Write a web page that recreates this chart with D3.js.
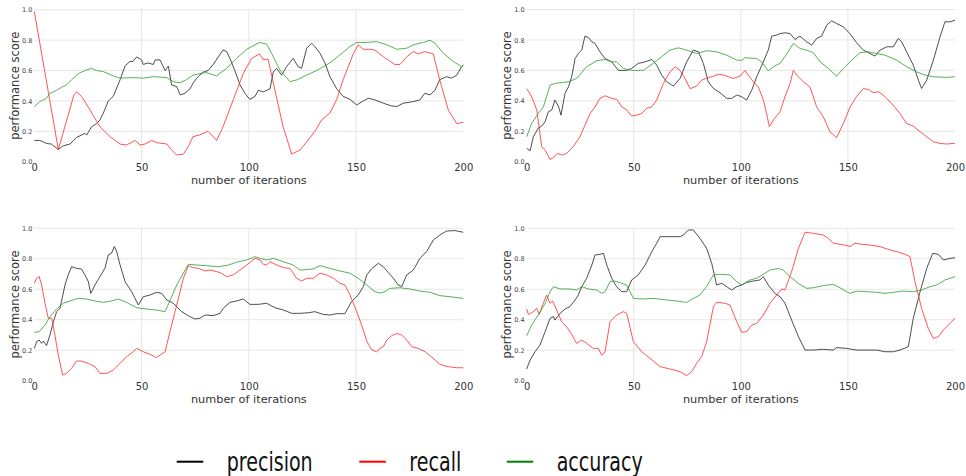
<!DOCTYPE html>
<html><head><meta charset="utf-8">
<script src="https://cdn.jsdelivr.net/npm/d3@7"></script>
<style>
html,body{margin:0;padding:0;background:#fff;}
svg{display:block;}
</style></head>
<body>
<svg id="chart" width="966" height="476"></svg>
<script>
// ---- data: [iteration, score] pairs ----
const xTicks = [0, 50, 100, 150, 200];
const yTicks = [0.0, 0.2, 0.4, 0.6, 0.8, 1.0];
const seriesNames = ["precision", "recall", "accuracy"];

const p1Precision = [[0,0.14],[2.6,0.14],[5.7,0.12],[8,0.116],[11.2,0.08],[13.5,0.105],[16.6,0.116],[19.7,0.16],[22,0.175],[23.6,0.187],[24.4,0.175],[26.7,0.23],[29,0.25],[30.6,0.275],[32.2,0.32],[34.5,0.4],[36.8,0.43],[40,0.54],[42.3,0.63],[44.6,0.66],[46,0.66],[47.7,0.69],[50,0.67],[50.8,0.64],[53,0.65],[55.5,0.64],[56.3,0.67],[58.6,0.67],[61,0.6],[62.5,0.63],[64,0.505],[66.4,0.495],[68,0.44],[70.2,0.45],[72.6,0.48],[74,0.516],[75.7,0.55],[77.2,0.57],[78.8,0.59],[81,0.6],[83.4,0.64],[85.8,0.69],[88,0.736],[89.7,0.725],[91.2,0.68],[93.5,0.6],[95.9,0.505],[98.2,0.45],[100.5,0.41],[102.9,0.43],[104.4,0.47],[106.8,0.46],[109.9,0.48],[111.4,0.59],[113,0.615],[115.3,0.57],[117.6,0.626],[120.7,0.68],[123,0.626],[124.6,0.615],[127,0.747],[129.3,0.78],[130.8,0.758],[133.2,0.714],[135.5,0.65],[137.8,0.56],[141,0.48],[144,0.43],[147.2,0.41],[150.3,0.374],[153.4,0.4],[155.7,0.418],[158.8,0.407],[162.7,0.385],[166.6,0.367],[169,0.363],[172,0.385],[176.7,0.396],[179.8,0.407],[182,0.45],[184.5,0.44],[186.8,0.47],[189,0.54],[192.2,0.56],[194.5,0.55],[197,0.57],[199.2,0.626],[200,0.637]];
const p1Recall = [[0,0.99],[11.2,0.08],[18.5,0.44],[19.7,0.46],[22,0.43],[26,0.34],[30.6,0.23],[35.3,0.165],[40,0.116],[43,0.11],[47,0.14],[49.3,0.11],[51.6,0.116],[54.7,0.14],[57,0.125],[61.7,0.117],[64,0.077],[66.4,0.044],[69.5,0.05],[71.8,0.1],[74,0.165],[77,0.176],[81,0.2],[83.4,0.165],[85,0.14],[88,0.23],[92.8,0.41],[97.4,0.58],[101.3,0.68],[105,0.71],[106.8,0.67],[109,0.675],[111.4,0.52],[116,0.23],[120,0.05],[123.9,0.077],[127.7,0.143],[130.8,0.2],[134,0.275],[137.8,0.32],[141,0.41],[144,0.54],[148.7,0.71],[151,0.77],[153.4,0.74],[156.5,0.74],[158.8,0.735],[162.7,0.69],[165,0.67],[168,0.64],[170.5,0.64],[173.6,0.69],[176.7,0.725],[179,0.71],[182,0.725],[186,0.71],[189,0.54],[193,0.34],[197,0.25],[200,0.26]];
const p1Accuracy = [[0,0.363],[2.6,0.396],[5.7,0.418],[7.3,0.45],[10.4,0.47],[12.7,0.49],[15,0.505],[17.4,0.54],[20.5,0.58],[23.6,0.6],[26.7,0.615],[29,0.6],[32.2,0.593],[36.8,0.565],[40,0.55],[46,0.554],[50.8,0.55],[55.5,0.56],[61.7,0.554],[64.8,0.527],[68,0.52],[71,0.54],[74,0.57],[80,0.587],[85,0.565],[89.7,0.615],[94.3,0.68],[99,0.74],[102.9,0.77],[105,0.785],[108.3,0.774],[110.6,0.714],[114.5,0.604],[119.2,0.527],[122.3,0.538],[127,0.57],[131.6,0.6],[137.8,0.65],[142.5,0.703],[147.2,0.758],[150.3,0.785],[155,0.785],[159.6,0.79],[164.3,0.77],[169,0.74],[173.6,0.747],[176.7,0.77],[181.4,0.785],[184.5,0.8],[186.8,0.78],[190.7,0.714],[195.3,0.66],[199.2,0.626],[200,0.63]];

const p2Precision = [[0,0.088],[1.6,0.072],[3.1,0.164],[5.4,0.22],[7,0.234],[8.6,0.263],[10.1,0.328],[11.7,0.34],[13.2,0.405],[14.8,0.365],[16,0.306],[17.9,0.449],[19.5,0.492],[21,0.558],[22.6,0.678],[24.1,0.711],[25.7,0.733],[27.2,0.825],[28.8,0.816],[30.4,0.788],[31.9,0.777],[34.2,0.722],[36.6,0.678],[39.7,0.656],[42.8,0.6],[46.7,0.6],[49,0.613],[52.1,0.646],[55.3,0.656],[58.4,0.672],[60.7,0.635],[63,0.569],[65.4,0.525],[68.5,0.497],[71.6,0.547],[74.7,0.656],[77.8,0.733],[80.2,0.722],[82.5,0.646],[84.8,0.525],[87.2,0.481],[90.3,0.453],[93.4,0.416],[95.7,0.416],[98.1,0.438],[100.4,0.427],[102.7,0.405],[105.1,0.47],[107.4,0.558],[110.5,0.656],[112.8,0.733],[114.4,0.825],[116.7,0.832],[118.3,0.842],[120.6,0.847],[123,0.842],[125.3,0.803],[127.6,0.825],[130.7,0.788],[133.1,0.766],[135.4,0.81],[137.7,0.825],[140.1,0.897],[142.4,0.926],[144.7,0.908],[147.9,0.886],[150.9,0.842],[154.1,0.781],[157.2,0.733],[160.3,0.711],[162.6,0.694],[165,0.733],[168.1,0.755],[171.2,0.755],[173.5,0.81],[175.1,0.788],[177.4,0.722],[180.5,0.635],[182.9,0.536],[184.4,0.481],[186.8,0.536],[189.9,0.667],[193,0.82],[195.3,0.919],[197.7,0.919],[200,0.93]];
const p2Recall = [[0,0.48],[2.3,0.427],[4.7,0.34],[7,0.1],[8.6,0.077],[10.9,0.015],[12.5,0.028],[14.3,0.055],[16.3,0.044],[18.7,0.055],[21.8,0.1],[24.9,0.164],[27.2,0.24],[29.6,0.317],[31.9,0.36],[34.2,0.416],[36.6,0.433],[39.7,0.416],[42,0.41],[44.4,0.36],[46.7,0.34],[49,0.3],[51.4,0.306],[53.7,0.317],[56,0.35],[58.4,0.36],[60.7,0.405],[63.8,0.514],[66.9,0.59],[69.3,0.624],[71.6,0.6],[73.9,0.547],[76.3,0.48],[79.4,0.497],[81.7,0.536],[84.8,0.553],[87.2,0.562],[89.5,0.575],[91.8,0.57],[94.2,0.558],[96.5,0.547],[99.6,0.562],[101.9,0.6],[103.5,0.569],[105.8,0.525],[108.2,0.49],[110.5,0.405],[112,0.317],[113.3,0.23],[115.2,0.274],[118.3,0.328],[120.6,0.427],[123,0.514],[124.5,0.6],[126.8,0.558],[129.2,0.525],[132.3,0.49],[135.4,0.36],[138.5,0.295],[141.6,0.197],[144.7,0.158],[147.9,0.252],[151,0.36],[154,0.427],[157.2,0.48],[159.5,0.475],[161.9,0.453],[164.2,0.46],[166.5,0.438],[170.4,0.383],[174.3,0.317],[177.4,0.252],[180.5,0.234],[183.7,0.197],[186.8,0.164],[189.9,0.131],[193,0.12],[196.1,0.116],[199.2,0.12],[200,0.12]];
const p2Accuracy = [[0,0.164],[2.3,0.252],[5.4,0.317],[7.8,0.36],[10.9,0.503],[13.2,0.514],[15.6,0.519],[19.5,0.525],[23.3,0.547],[28,0.624],[32.7,0.663],[36.6,0.672],[39.7,0.656],[42,0.656],[45.1,0.613],[49,0.6],[54.5,0.6],[59.1,0.646],[63,0.69],[66.9,0.733],[70.8,0.748],[74.7,0.733],[79.4,0.711],[84,0.729],[88.7,0.722],[93.4,0.7],[98.1,0.667],[100.4,0.667],[101.9,0.683],[107.4,0.678],[109.7,0.656],[112.8,0.597],[115.2,0.624],[118.3,0.646],[121.4,0.707],[124.5,0.777],[127.6,0.744],[130.7,0.733],[133.9,0.716],[137,0.656],[140.9,0.613],[144.7,0.562],[147.9,0.613],[151.8,0.667],[155.6,0.716],[159.5,0.722],[163.4,0.711],[167.3,0.7],[172.8,0.667],[177.4,0.624],[182.1,0.59],[186,0.569],[189.9,0.558],[196.1,0.554],[200,0.558]];

const p3Precision = [[0,0.212],[1.1,0.256],[2.3,0.267],[3.4,0.245],[4.2,0.26],[5.7,0.23],[7.3,0.3],[8.9,0.387],[10.4,0.453],[12,0.475],[14.3,0.628],[15.8,0.694],[17.4,0.748],[19.7,0.737],[22,0.733],[23.6,0.694],[25.2,0.65],[26.3,0.573],[28.3,0.628],[30.6,0.683],[32.9,0.737],[34.5,0.825],[36,0.836],[37.3,0.88],[38.4,0.847],[40,0.759],[42.3,0.65],[45.4,0.584],[48.5,0.497],[50.8,0.551],[53.9,0.562],[57,0.58],[59.4,0.573],[61.7,0.53],[64.8,0.508],[68.7,0.453],[72.6,0.42],[74.9,0.405],[77.2,0.41],[79.6,0.431],[83.4,0.427],[86.6,0.442],[88.1,0.475],[91.2,0.514],[94.3,0.523],[97.4,0.536],[100.5,0.501],[104.4,0.501],[108.3,0.508],[112.2,0.479],[116.1,0.464],[120,0.442],[123.9,0.442],[127.7,0.446],[130.8,0.453],[134.7,0.435],[137.8,0.431],[141,0.44],[144.8,0.44],[147.9,0.519],[151,0.562],[153.4,0.617],[155,0.694],[157.4,0.737],[160.4,0.77],[162.7,0.748],[165,0.711],[167.4,0.672],[169.7,0.628],[171.3,0.617],[173.6,0.694],[176.7,0.726],[179.8,0.803],[182.9,0.847],[186,0.923],[189.1,0.956],[192.2,0.982],[196.1,0.985],[200,0.974]];
const p3Recall = [[0,0.64],[1.1,0.672],[2.3,0.683],[3.4,0.628],[5,0.508],[6.5,0.41],[8.1,0.41],[9.6,0.3],[11.2,0.168],[13.2,0.037],[15,0.048],[17.4,0.081],[19.7,0.129],[22,0.129],[25.2,0.114],[28.3,0.092],[30.6,0.048],[33.7,0.048],[36.8,0.07],[40,0.114],[43,0.158],[46.2,0.19],[47.7,0.212],[50.8,0.19],[53.9,0.173],[57,0.151],[58.6,0.168],[61,0.19],[63.2,0.32],[66.4,0.497],[69.5,0.672],[71.8,0.755],[74.1,0.742],[76.5,0.737],[79.6,0.72],[81.9,0.726],[85,0.716],[87.3,0.705],[89.7,0.683],[92.8,0.694],[95.9,0.726],[99,0.759],[102.9,0.803],[105.2,0.792],[106.8,0.764],[108.3,0.759],[109.9,0.781],[113,0.759],[116.1,0.742],[119.2,0.737],[122.3,0.672],[124.6,0.654],[127,0.672],[130.1,0.672],[133.2,0.705],[136.3,0.694],[139.4,0.672],[142.5,0.639],[144.8,0.628],[147.2,0.562],[150.3,0.453],[152.6,0.365],[155.1,0.256],[157.4,0.201],[159.6,0.19],[161.2,0.212],[162.7,0.223],[164.3,0.267],[166.6,0.295],[169,0.31],[171.3,0.3],[173.6,0.267],[176,0.223],[179,0.212],[182.2,0.19],[186,0.147],[189.1,0.107],[193,0.092],[196.9,0.085],[200,0.085]];
const p3Accuracy = [[0,0.317],[2.3,0.322],[5,0.365],[7.3,0.42],[10.4,0.47],[13.5,0.508],[16.6,0.523],[20.5,0.54],[24.4,0.536],[28.3,0.523],[32.2,0.514],[36,0.523],[39.2,0.536],[43,0.514],[47.7,0.479],[52.4,0.47],[57,0.464],[61,0.453],[66.4,0.628],[71.8,0.764],[75.7,0.759],[80.3,0.755],[85.8,0.748],[90.5,0.759],[95.1,0.781],[99,0.792],[102.9,0.814],[105.2,0.803],[108.3,0.792],[111.4,0.803],[116.1,0.781],[120.7,0.759],[123.9,0.726],[130,0.733],[133.2,0.755],[137.8,0.737],[142.5,0.72],[147.2,0.705],[151,0.672],[155,0.628],[158.8,0.584],[161.2,0.575],[163.5,0.584],[165.8,0.606],[170.5,0.61],[175.1,0.602],[179.8,0.588],[184.5,0.58],[189.1,0.558],[193.8,0.551],[200,0.54]];

const p4Precision = [[0,0.077],[1.6,0.136],[3.9,0.19],[6.2,0.234],[8.6,0.322],[10.9,0.409],[12.5,0.42],[13.2,0.398],[15.6,0.442],[17.9,0.47],[20.2,0.486],[22.6,0.53],[24.1,0.562],[25.7,0.617],[28,0.672],[30.4,0.759],[31.9,0.825],[34.2,0.829],[35.8,0.836],[37.4,0.759],[39.7,0.672],[42,0.617],[44.4,0.584],[46.7,0.584],[49,0.661],[52.1,0.694],[55.3,0.759],[58.4,0.847],[60.7,0.902],[62.3,0.945],[65.4,0.945],[68.5,0.945],[71.6,0.945],[73.2,0.956],[75.5,0.989],[77.8,0.989],[80.9,0.934],[84,0.869],[86.4,0.77],[88.7,0.628],[91.1,0.639],[93.4,0.617],[95.7,0.595],[98.1,0.617],[100.4,0.628],[102.7,0.645],[105.8,0.654],[108.9,0.661],[110.5,0.683],[112.8,0.628],[115.9,0.573],[118.3,0.551],[120.6,0.508],[123.7,0.398],[126.9,0.289],[130,0.201],[133.9,0.201],[138.5,0.206],[143.2,0.201],[144.7,0.217],[149.4,0.212],[154,0.201],[158.8,0.201],[163.4,0.201],[167.3,0.19],[171.2,0.19],[174.3,0.201],[178.2,0.223],[180.5,0.409],[183.7,0.584],[186.8,0.737],[189.6,0.836],[192.2,0.829],[194.6,0.792],[197.7,0.803],[200,0.807]];
const p4Recall = [[0,0.47],[0.8,0.435],[3.1,0.453],[4.7,0.475],[5.9,0.435],[7.5,0.5],[9.3,0.562],[10.9,0.508],[12.1,0.523],[14,0.464],[16.3,0.387],[18.7,0.354],[21,0.304],[23.3,0.245],[25.7,0.267],[28,0.245],[31.1,0.212],[33.5,0.212],[35,0.168],[36.6,0.19],[38.9,0.387],[42,0.431],[45.1,0.453],[46.7,0.442],[49.8,0.256],[53.7,0.19],[57.6,0.147],[62.3,0.092],[66.9,0.077],[71.6,0.059],[74.7,0.033],[77,0.059],[79.4,0.114],[81.7,0.158],[84,0.256],[87.2,0.486],[88.7,0.514],[92.6,0.508],[94.9,0.497],[98.1,0.387],[100.4,0.317],[102.7,0.322],[105.1,0.365],[107.4,0.376],[110.5,0.431],[113.6,0.508],[116.7,0.562],[119.1,0.602],[120.6,0.595],[123.7,0.716],[126.9,0.869],[130,0.974],[133.9,0.967],[138.5,0.956],[140.9,0.934],[143.2,0.902],[146.3,0.895],[148.6,0.89],[151,0.88],[153.3,0.902],[156.5,0.895],[160.3,0.89],[165,0.88],[169.6,0.858],[172.8,0.847],[176.7,0.829],[179,0.814],[181.3,0.65],[184.4,0.475],[187.5,0.344],[189.9,0.278],[192.2,0.289],[194.6,0.333],[197.7,0.376],[200,0.41]];
const p4Accuracy = [[0,0.295],[2.3,0.365],[5.4,0.431],[8.6,0.508],[10.9,0.584],[12.5,0.617],[15.6,0.602],[20.2,0.602],[23.3,0.595],[25.7,0.617],[28.8,0.602],[32.7,0.595],[35,0.573],[36.6,0.584],[38.9,0.65],[41.2,0.654],[44.4,0.639],[46.7,0.628],[49.8,0.54],[54.5,0.536],[59.1,0.54],[65.4,0.53],[70,0.523],[74.7,0.514],[77.8,0.54],[80.9,0.562],[84,0.617],[87.2,0.694],[90.3,0.698],[94.9,0.694],[98.1,0.65],[100.4,0.628],[104.3,0.661],[107.4,0.672],[110.5,0.698],[113.6,0.726],[117.5,0.737],[119.8,0.726],[122.9,0.683],[126.8,0.639],[130.7,0.606],[133.9,0.61],[138.5,0.624],[143.2,0.632],[146.3,0.61],[149.4,0.584],[151,0.573],[154.1,0.588],[158.8,0.584],[163.4,0.58],[167.3,0.573],[171.2,0.58],[175.9,0.588],[180.5,0.584],[184.4,0.595],[188.3,0.617],[191.4,0.628],[195.3,0.661],[200,0.683]];

// ---- layout ----
const svg = d3.select("#chart");
const font = "'DejaVu Sans', sans-serif";
const lineColors = ["#222222", "#ff2a2a", "#2e9e2e"];
const legendColors = ["#000000", "#ff0000", "#008000"];

const panels = [
  {series:[p1Precision, p1Recall, p1Accuracy], x0:34.3, x1:463.3, yB:161.7, yT:9.8},
  {series:[p2Precision, p2Recall, p2Accuracy], x0:526.7, x1:955, yB:161.7, yT:9.5},
  {series:[p3Precision, p3Recall, p3Accuracy], x0:34.3, x1:463.3, yB:380.7, yT:228.3},
  {series:[p4Precision, p4Recall, p4Accuracy], x0:526.7, x1:955, yB:380.7, yT:228.3}
];

panels.forEach(p => {
  const x = d3.scaleLinear().domain([0, 200]).range([p.x0, p.x1]);
  const y = d3.scaleLinear().domain([0, 1]).range([p.yB, p.yT]);
  const g = svg.append("g");

  // grid
  g.append("g").selectAll("line.h").data(yTicks.filter(t => t > 0)).join("line")
    .attr("x1", p.x0).attr("x2", p.x1)
    .attr("y1", d => y(d)).attr("y2", d => y(d))
    .attr("stroke", "#e6e6e6").attr("stroke-width", 1);
  g.append("g").selectAll("line.v").data(xTicks.filter(t => t > 0 && t < 200)).join("line")
    .attr("x1", d => x(d)).attr("x2", d => x(d))
    .attr("y1", p.yT).attr("y2", p.yB)
    .attr("stroke", "#e6e6e6").attr("stroke-width", 1);

  // axes (labels only)
  const xa = g.append("g").attr("transform", `translate(0,${p.yB})`)
    .call(d3.axisBottom(x).tickValues(xTicks).tickSize(0).tickPadding(2.5).tickFormat(d3.format("d")));
  xa.select(".domain").remove();
  xa.selectAll("text").attr("font-family", font).attr("font-size", 10).attr("fill", "#333");

  const ya = g.append("g").attr("transform", `translate(${p.x0},0)`)
    .call(d3.axisLeft(y).tickValues(yTicks).tickSize(0).tickPadding(2).tickFormat(d3.format(".1f")));
  ya.select(".domain").remove();
  ya.selectAll("text").attr("font-family", font).attr("font-size", 6.5).attr("fill", "#444");

  // titles
  g.append("text").attr("x", (p.x0 + p.x1) / 2).attr("y", p.yB + 21.8)
    .attr("text-anchor", "middle").attr("font-family", font).attr("font-size", 11.3).attr("fill", "#333")
    .text("number of iterations");
  g.append("text")
    .attr("transform", `translate(${p.x0 - 15.8},${(p.yB + p.yT) / 2}) rotate(-90)`)
    .attr("text-anchor", "middle").attr("font-family", font).attr("font-size", 11.5).attr("fill", "#333")
    .text("performance score");

  // lines
  const line = d3.line().x(d => x(d[0])).y(d => y(d[1]));
  p.series.forEach((s, i) => {
    g.append("path").datum(s).attr("d", line)
      .attr("fill", "none").attr("stroke", lineColors[i]).attr("stroke-width", 1)
      .attr("stroke-opacity", 0.8).attr("stroke-linejoin", "round");
  });
});

// legend
const legendX = [176.7, 359.3, 506.7];
const legendW = [86, 52, 86];
const lg = svg.append("g");
seriesNames.forEach((name, i) => {
  lg.append("line").attr("x1", legendX[i]).attr("x2", legendX[i] + 26.6)
    .attr("y1", 461.7).attr("y2", 461.7)
    .attr("stroke", legendColors[i]).attr("stroke-width", 2);
  lg.append("text").attr("x", legendX[i] + 50).attr("y", 471)
    .attr("font-family", font).attr("font-size", 27).attr("fill", "#111")
    .attr("textLength", legendW[i]).attr("lengthAdjust", "spacingAndGlyphs")
    .text(name);
});
</script>
</body></html>
